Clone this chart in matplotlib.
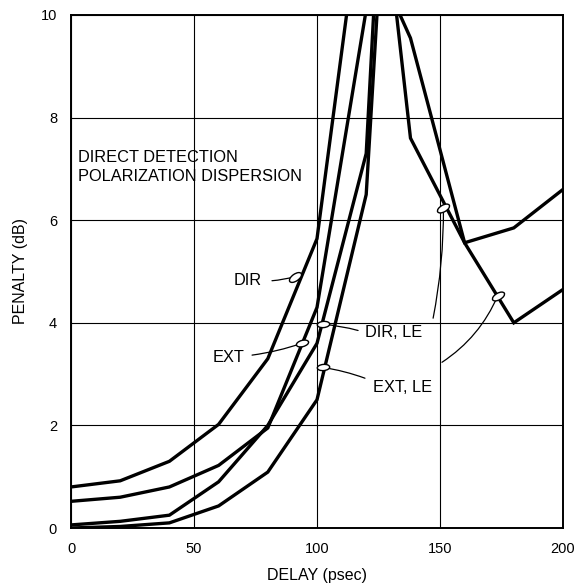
import matplotlib
matplotlib.use("Agg")
import matplotlib.pyplot as plt
from matplotlib.path import Path
from matplotlib.transforms import Affine2D

plt.rcParams['font.family'] = ['Liberation Sans', 'DejaVu Sans']

# ---- data ----
x_dir = [0, 20, 40, 60, 80, 100, 120]
y_dir = [0.8, 0.92, 1.3, 2.02, 3.3, 5.64, 12.9]

x_ext = [0, 20, 40, 60, 80, 100, 120]
y_ext = [0.52, 0.6, 0.8, 1.22, 1.95, 4.3, 10.1]

x_dir_le = [0, 20, 40, 60, 80, 100, 120, 126, 138, 160, 180, 200]
y_dir_le = [0.06, 0.13, 0.25, 0.9, 2.0, 3.6, 7.3, 12.7, 7.6, 5.56, 5.85, 6.6]

x_ext_le = [0, 20, 40, 60, 80, 100, 120, 126, 130, 138, 160, 180, 200]
y_ext_le = [0.0, 0.03, 0.1, 0.43, 1.09, 2.5, 6.5, 11.3, 10.4, 9.55, 5.56, 4.0, 4.65]

x_ticks = [0, 50, 100, 150, 200]
y_ticks = [0, 2, 4, 6, 8, 10]

title_lines = ["DIRECT DETECTION", "POLARIZATION DISPERSION"]

# label text, text position, leader start, marker position, marker angle
labels = [
    ("DIR", (66.0, 4.82), (81.7, 4.82), (91.0, 4.9), 35),
    ("EXT", (57.7, 3.33), (73.6, 3.37), (93.8, 3.6), 15),
    ("DIR, LE", (119.5, 3.81), (116.7, 3.85), (102.4, 3.97), 5),
    ("EXT, LE", (122.8, 2.74), (119.5, 2.92), (102.4, 3.13), 5),
]
# extra leaders from labels to right-hand branches: start, marker, rad, angle
right_leaders = [
    ((147.2, 4.09), (151.4, 6.23), 0.05, 30),
    ((150.8, 3.23), (173.5, 4.53), 0.15, 30),
]

# ---- figure ----
W, H = 581, 585
fig = plt.figure(figsize=(W / 100, H / 100), dpi=100)
ax = fig.add_axes([71 / W, 1 - 528 / H, (563 - 71) / W, (528 - 15) / H])

lw_curve = 2.4
for xs, ys in [(x_dir, y_dir), (x_ext, y_ext), (x_dir_le, y_dir_le), (x_ext_le, y_ext_le)]:
    ax.plot(xs, ys, color='black', lw=lw_curve, solid_joinstyle='miter', zorder=3)

ax.set_xlim(0, 200)
ax.set_ylim(0, 10)
ax.set_xticks(x_ticks)
ax.set_yticks(y_ticks)
ax.tick_params(length=0, labelsize=10.5, pad=10)
ax.grid(True, color='black', lw=0.8)
ax.set_axisbelow(True)
for s in ax.spines.values():
    s.set_linewidth(1.4)

ax.set_xlabel("DELAY (psec)", fontsize=11.5, labelpad=9)
ax.set_ylabel("PENALTY (dB)", fontsize=11.5, labelpad=9)

ax.text(2.8, 7.22, title_lines[0], fontsize=11.8, va='center', ha='left')
ax.text(2.8, 6.85, title_lines[1], fontsize=11.8, va='center', ha='left')


def ellipse_marker(angle):
    circ = Path.unit_circle()
    t = Affine2D().scale(1.0, 0.5).rotate_deg(angle)
    return t.transform_path(circ)


def draw_marker(pos, angle):
    ax.plot([pos[0]], [pos[1]], marker=ellipse_marker(angle), markersize=9,
            markerfacecolor='white', markeredgecolor='black', markeredgewidth=1.0,
            zorder=5, clip_on=False)


for text, tpos, lstart, mpos, ang in labels:
    ax.text(tpos[0], tpos[1], text, fontsize=11.8, va='center', ha='left')
    ax.annotate('', xy=mpos, xytext=lstart,
                arrowprops=dict(arrowstyle='-', lw=0.9, color='black',
                                shrinkA=0, shrinkB=0,
                                connectionstyle='arc3,rad=0.05'), zorder=4)
    draw_marker(mpos, ang)

for lstart, mpos, rad, ang in right_leaders:
    ax.annotate('', xy=mpos, xytext=lstart,
                arrowprops=dict(arrowstyle='-', lw=0.9, color='black',
                                shrinkA=0, shrinkB=0,
                                connectionstyle=f'arc3,rad={rad}'), zorder=4)
    draw_marker(mpos, ang)

fig.savefig("out.png", dpi=100)
